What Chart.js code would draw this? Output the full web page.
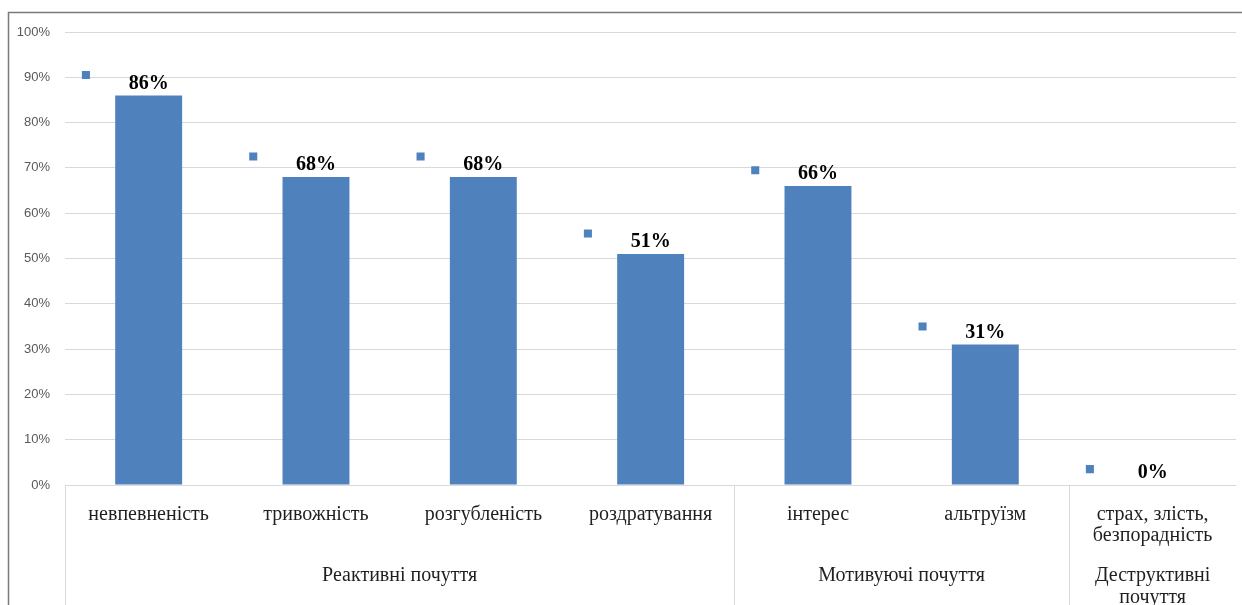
<!DOCTYPE html>
<html>
<head>
<meta charset="utf-8">
<script src="https://cdn.jsdelivr.net/npm/chart.js@4"></script>
<style>
  html, body { margin: 0; padding: 0; background: #fff; }
  #wrap { width: 1242px; height: 605px; position: relative; }
</style>
</head>
<body>
<div id="wrap"><canvas id="chart"></canvas></div>
<script>
// data
const categories = ['невпевненість', 'тривожність', 'розгубленість', 'роздратування', 'інтерес', 'альтруїзм', ['страх, злість,', 'безпорадність']];
const barValues = [86, 68, 68, 51, 66, 31, 0];
const markerValues = [90.5, 72.5, 72.5, 55.5, 69.5, 35, 3.5];
const groupLabels = [['Реактивні почуття'], ['Мотивуючі почуття'], ['Деструктивні', 'почуття']];
const groupSizes = [4, 2, 1];

const blue = '#4f81bd';
const serif = '"Liberation Serif", "Times New Roman", serif';
const markerShift = -0.375; // markers sit left of each bar

// frame, separators, group labels and value labels
const extras = {
  id: 'extras',
  beforeDraw(chart) {
    const ctx = chart.ctx;
    ctx.save();
    ctx.strokeStyle = '#7a7a7a';
    ctx.lineWidth = 1.5;
    ctx.beginPath();
    ctx.moveTo(8.5, chart.height);
    ctx.lineTo(8.5, 12.5);
    ctx.lineTo(chart.width, 12.5);
    ctx.stroke();
    ctx.restore();
  },
  afterDraw(chart) {
    const ctx = chart.ctx;
    const x = chart.scales.x;
    const area = chart.chartArea;
    const step = (area.right - area.left) / categories.length;

    // vertical separators between the groups
    ctx.save();
    ctx.strokeStyle = '#d9d9d9';
    ctx.lineWidth = 1;
    let start = 0;
    const bounds = [0];
    groupSizes.forEach(n => { start += n; bounds.push(start); });
    bounds.slice(0, -1).forEach(b => {
      const px = Math.round(x.getPixelForValue(b) - step / 2) + 0.5;
      ctx.beginPath();
      ctx.moveTo(px, area.bottom);
      ctx.lineTo(px, chart.height);
      ctx.stroke();
    });

    // group labels
    ctx.fillStyle = '#1f1f1f';
    ctx.font = '20px ' + serif;
    ctx.textAlign = 'center';
    ctx.textBaseline = 'middle';
    groupLabels.forEach((lines, g) => {
      const left = x.getPixelForValue(bounds[g]) - step / 2;
      const right = x.getPixelForValue(bounds[g + 1] - 1) + step / 2;
      lines.forEach((t, k) => ctx.fillText(t, (left + right) / 2, 576 + k * 22));
    });

    // value labels above bars
    ctx.fillStyle = '#000';
    ctx.font = 'bold 20px ' + serif;
    chart.getDatasetMeta(0).data.forEach((bar, i) => {
      ctx.fillText(barValues[i] + '%', bar.x, bar.y - 12);
    });
    ctx.restore();
  }
};

new Chart(document.getElementById('chart'), {
  type: 'bar',
  data: {
    labels: categories,
    datasets: [
      {
        label: 'bars',
        data: barValues,
        backgroundColor: blue,
        barPercentage: 0.4,
        categoryPercentage: 1,
        grouped: false,
        order: 2
      },
      {
        label: 'markers',
        type: 'scatter',
        xAxisID: 'x2',
        data: markerValues.map((v, i) => ({ x: i + markerShift, y: v })),
        backgroundColor: blue,
        borderWidth: 0,
        pointStyle: 'rect',
        pointRadius: 5.7,
        order: 1
      }
    ]
  },
  options: {
    responsive: true,
    maintainAspectRatio: false,
    animation: false,
    layout: { padding: { top: 32, right: -3, left: 0, bottom: 0 } },
    plugins: {
      legend: { display: false },
      tooltip: { enabled: false }
    },
    scales: {
      x: {
        grid: { display: false },
        border: { display: false },
        ticks: {
          color: '#1f1f1f',
          font: { family: serif, size: 20, lineHeight: 1.05 },
          padding: 11,
          maxRotation: 0,
          autoSkip: false
        },
        afterFit(scale) { scale.height = 120; }
      },
      x2: {
        type: 'linear',
        display: false,
        offset: false,
        min: -0.5,
        max: categories.length - 0.5
      },
      y: {
        min: 0,
        max: 100,
        grid: { color: '#d9d9d9', drawTicks: false },
        border: { display: false },
        ticks: {
          stepSize: 10,
          color: '#595959',
          font: { family: '"Liberation Sans", Arial, sans-serif', size: 13 },
          padding: 15,
          callback: v => v + '%'
        },
        afterFit(scale) { scale.width = 65; }
      }
    }
  },
  plugins: [extras]
});
</script>
</body>
</html>
